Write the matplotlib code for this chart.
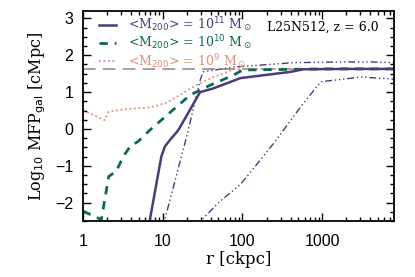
import numpy as np
import matplotlib
matplotlib.use("Agg")
import matplotlib.pyplot as plt
from matplotlib.ticker import LogLocator, MultipleLocator, NullFormatter

# data (r in ckpc, log10 MFP in cMpc)
r_m11 = [6.5, 6.9, 9.6, 10.6, 12.3, 15.7, 29.4, 43, 94, 400, 580, 2000, 8000]
y_m11 = [-2.8, -2.46, -0.75, -0.48, -0.3, -0.03, 1.0, 1.1, 1.38, 1.55, 1.62, 1.63, 1.63]

r_m10 = [1.0, 1.7, 2.1, 2.6, 3.3, 3.9, 4.9, 6.9, 22, 39.5, 77, 100, 1000, 8000]
y_m10 = [-2.23, -2.46, -1.29, -1.15, -0.70, -0.48, -0.34, -0.03, 0.92, 1.19, 1.46, 1.60, 1.63, 1.63]

r_m9 = [1.0, 1.87, 2.1, 3.0, 4.0, 6.2, 8.0, 11, 18, 22, 29.6, 43, 57, 77, 200, 1000, 8000]
y_m9 = [0.51, 0.24, 0.47, 0.52, 0.55, 0.57, 0.62, 0.71, 0.97, 1.1, 1.24, 1.41, 1.5, 1.62, 1.63, 1.63, 1.63]

r_hi = [10.0, 10.6, 20, 29.4, 32, 77, 440, 2000, 4000, 8000]
y_hi = [-2.8, -2.46, -0.2, 1.32, 1.55, 1.68, 1.80, 1.82, 1.82, 1.80]

r_lo = [28, 31, 50, 94, 150, 246, 537, 955, 3070, 8000]
y_lo = [-2.8, -2.46, -2.0, -1.51, -0.97, -0.39, 0.6, 1.28, 1.41, 1.35]

mfp_ref = 1.63

c_m11 = "#4b3b7d"
c_m10 = "#0b6b52"
c_m9 = "#e0907a"

serif = ["DejaVu Serif"]
sans = ["Liberation Sans", "DejaVu Sans"]

fig = plt.figure(figsize=(4.15, 2.77), dpi=100)
ax = fig.add_axes([0.200, 0.202, 0.749, 0.758])

ax.axhline(mfp_ref, color="#9a9a9a", lw=1.3, dashes=(7, 4))
ax.plot(r_hi, y_hi, color=c_m11, lw=1.0, dashes=(5, 2, 1, 2, 1, 2, 1, 2))
ax.plot(r_lo, y_lo, color=c_m11, lw=1.0, dashes=(5, 2, 1, 2, 1, 2, 1, 2))
ax.plot(r_m9, y_m9, color=c_m9, lw=1.3, ls=(0, (1, 1.5)))
ax.plot(r_m10, y_m10, color=c_m10, lw=2.0, dashes=(3, 2.5))
ax.plot(r_m11, y_m11, color=c_m11, lw=1.8)

ax.set_xscale("log")
ax.set_xlim(1, 7900)
ax.set_ylim(-2.5, 3.2)

ax.xaxis.set_minor_locator(LogLocator(base=10, subs=np.arange(2, 10), numticks=20))
ax.xaxis.set_minor_formatter(NullFormatter())
ax.set_xticks([1, 10, 100, 1000])
ax.set_xticklabels(["1", "10", "100", "1000"])
ax.yaxis.set_minor_locator(MultipleLocator(0.25))
ax.set_yticks([-2, -1, 0, 1, 2, 3])
ax.set_yticklabels(["\u22122", "\u22121", "0", "1", "2", "3"])

ax.tick_params(which="both", direction="in", top=True, right=True, width=1.0)
ax.tick_params(which="major", length=6, labelsize=11.5, pad=7)
ax.tick_params(axis="x", which="major", pad=9)
ax.tick_params(which="minor", length=3)
for lab in ax.get_xticklabels() + ax.get_yticklabels():
    lab.set_family(sans)
for s in ax.spines.values():
    s.set_linewidth(1.3)

ax.set_xlabel("r [ckpc]", family=serif, fontsize=12, labelpad=2)
ax.set_ylabel(r"Log$_{10}$ MFP$_{\rm gal}$ [cMpc]", family=serif, fontsize=11.5, labelpad=5)

# legend drawn by hand as in the original
labels = [(r"<M$_{200}$> = 10$^{11}$ M$_\odot$", c_m11, "-", 1.8),
          (r"<M$_{200}$> = 10$^{10}$ M$_\odot$", c_m10, (0, (3, 2.5)), 2.0),
          (r"<M$_{200}$> = 10$^{9}$ M$_\odot$", c_m9, (0, (1, 1.5)), 1.3)]
for i, (txt, col, ls, lw) in enumerate(labels):
    yy = 0.935 - i * 0.087
    ax.plot([0.05, 0.105], [yy, yy], transform=ax.transAxes, color=col, ls=ls, lw=lw)
    ax.text(0.145, yy, txt, transform=ax.transAxes, color=col, family=serif,
            fontsize=9, va="center", ha="left")

ax.text(0.95, 0.925, "L25N512, z = 6.0", transform=ax.transAxes, family=serif,
        fontsize=9, ha="right", va="center")

plt.savefig("out.png", dpi=100)
